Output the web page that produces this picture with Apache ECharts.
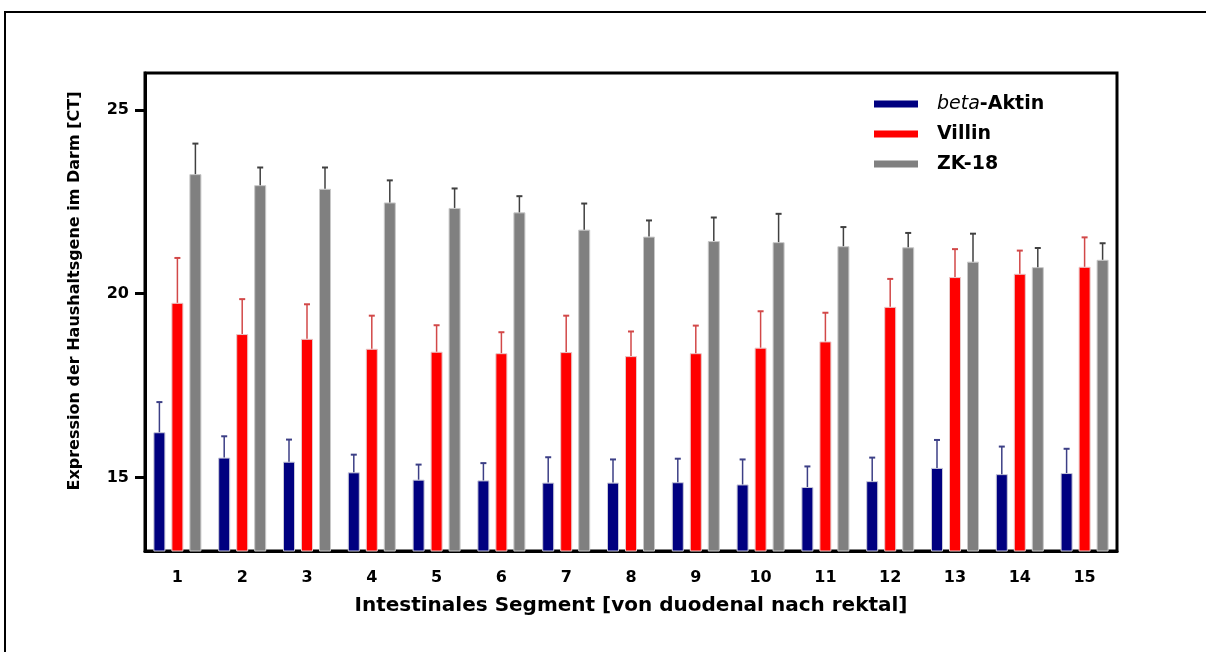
<!DOCTYPE html>
<html>
<head>
<meta charset="utf-8">
<script src="https://cdn.jsdelivr.net/npm/echarts@6/dist/echarts.min.js"></script>
<style>
  html, body { margin: 0; padding: 0; background: #fff; }
  #main { width: 1206px; height: 652px; }
</style>
</head>
<body>
<div id="main"></div>
<script>
var segments = ['1', '2', '3', '4', '5', '6', '7', '8', '9', '10', '11', '12', '13', '14', '15'];

// mean CT values
var betaAktin = [16.23, 15.54, 15.43, 15.14, 14.94, 14.92, 14.86, 14.86, 14.87, 14.81, 14.74, 14.90, 15.26, 15.09, 15.12];
var villin    = [19.75, 18.90, 18.77, 18.50, 18.42, 18.38, 18.41, 18.30, 18.38, 18.53, 18.70, 19.64, 20.45, 20.54, 20.73];
var zk18      = [23.25, 22.95, 22.85, 22.48, 22.33, 22.21, 21.74, 21.55, 21.43, 21.40, 21.29, 21.26, 20.87, 20.72, 20.92];

// standard deviations (upper whisker only)
var betaAktinSd = [0.82, 0.58, 0.60, 0.48, 0.41, 0.47, 0.69, 0.63, 0.64, 0.68, 0.56, 0.64, 0.76, 0.75, 0.66];
var villinSd    = [1.22, 0.95, 0.94, 0.90, 0.72, 0.57, 0.99, 0.67, 0.75, 0.99, 0.78, 0.76, 0.76, 0.63, 0.80];
var zk18Sd      = [0.83, 0.48, 0.58, 0.60, 0.53, 0.44, 0.71, 0.44, 0.64, 0.77, 0.52, 0.39, 0.76, 0.52, 0.45];

var yTicks = [15, 20, 25];

var font = '"DejaVu Sans", sans-serif';
var barW = 12;
var step = 18; // bar width + gap

function errData(mean, sd) {
	return mean.map(function (v, i) { return [i, v, sd[i]]; });
}

function errRender(offset, color) {
	return function (params, api) {
		var base = api.coord([api.value(0), api.value(1)]);
		var top = api.coord([api.value(0), api.value(1) + api.value(2)]);
		var cx = base[0] + offset;
		return {
			type: 'group',
			children: [{
				type: 'line',
				shape: { x1: cx, y1: base[1], x2: cx, y2: top[1] },
				style: { stroke: color, lineWidth: 1.5 }
			}, {
				type: 'line',
				shape: { x1: cx - 3, y1: top[1], x2: cx + 3, y2: top[1] },
				style: { stroke: color, lineWidth: 2 }
			}]
		};
	};
}

var chart = echarts.init(document.getElementById('main'));

var option = {
	backgroundColor: '#fff',
	animation: false,
	textStyle: { fontFamily: font },
	graphic: [{
		type: 'rect',
		shape: { x: 5, y: 12, width: 1400, height: 800 },
		style: { fill: 'none', stroke: '#000', lineWidth: 2 },
		z: -1
	}],
	grid: {
		left: 145,
		right: 89,
		top: 73,
		bottom: 101,
		show: true,
		borderColor: '#000',
		borderWidth: 3
	},
	legend: {
		data: ['beta-Aktin', 'Villin', 'ZK-18'],
		orient: 'vertical',
		left: 869,
		top: 89,
		itemWidth: 44,
		itemHeight: 7,
		itemGap: 10,
		icon: 'rect',
		itemStyle: { borderWidth: 0 },
		textStyle: {
			fontFamily: font,
			fontSize: 19,
			fontWeight: 'bold',
			color: '#000',
			lineHeight: 20,
			padding: [0, 0, 0, 14],
			rich: {
				it: { fontFamily: font, fontSize: 19, fontStyle: 'italic', fontWeight: 'normal', color: '#000', lineHeight: 20 },
				b: { fontFamily: font, fontSize: 19, fontWeight: 'bold', color: '#000', lineHeight: 20 }
			}
		},
		formatter: function (name) {
			if (name === 'beta-Aktin') return '{it|beta}{b|-Aktin}';
			return name;
		}
	},
	xAxis: {
		type: 'category',
		data: segments,
		name: 'Intestinales Segment [von duodenal nach rektal]',
		nameLocation: 'middle',
		nameGap: 45,
		nameTextStyle: { fontFamily: font, fontSize: 20, fontWeight: 'bold', color: '#000' },
		axisLine: { lineStyle: { color: '#000', width: 3 } },
		axisTick: { alignWithLabel: true, length: 9, lineStyle: { color: '#000', width: 4 } },
		axisLabel: { margin: 19, fontFamily: font, fontSize: 16, fontWeight: 'bold', color: '#000' },
		splitLine: { show: false }
	},
	yAxis: {
		type: 'value',
		min: 13,
		max: 26,
		name: 'Expression der Haushaltsgene im Darm [CT]',
		nameLocation: 'middle',
		nameGap: 62,
		nameTextStyle: { fontFamily: font, fontSize: 16, fontWeight: 'bold', color: '#000', padding: [0, 0, 0, 42] },
		axisLine: { show: true, lineStyle: { color: '#000', width: 3 } },
		axisTick: { show: true, length: 10, customValues: yTicks, lineStyle: { color: '#000', width: 3 } },
		axisLabel: { margin: 16, customValues: yTicks, fontFamily: font, fontSize: 16, fontWeight: 'bold', color: '#000' },
		splitLine: { show: false }
	},
	series: [{
		name: 'beta-Aktin',
		type: 'bar',
		data: betaAktin,
		barWidth: barW,
		barGap: '50%',
		itemStyle: { color: '#000080', borderColor: '#c8c8d8', borderWidth: 1 }
	}, {
		name: 'Villin',
		type: 'bar',
		data: villin,
		barWidth: barW,
		barGap: '50%',
		itemStyle: { color: '#ff0000', borderColor: '#e8c8c8', borderWidth: 1 }
	}, {
		name: 'ZK-18',
		type: 'bar',
		data: zk18,
		barWidth: barW,
		barGap: '50%',
		itemStyle: { color: '#808080', borderColor: '#c8c8c8', borderWidth: 1 }
	}, {
		name: 'beta-Aktin SD',
		type: 'custom',
		data: errData(betaAktin, betaAktinSd),
		encode: { x: 0, y: 1 },
		renderItem: errRender(-step, '#3c3f86'),
		z: 3
	}, {
		name: 'Villin SD',
		type: 'custom',
		data: errData(villin, villinSd),
		encode: { x: 0, y: 1 },
		renderItem: errRender(0, '#d24848'),
		z: 3
	}, {
		name: 'ZK-18 SD',
		type: 'custom',
		data: errData(zk18, zk18Sd),
		encode: { x: 0, y: 1 },
		renderItem: errRender(step, '#404040'),
		z: 3
	}]
};

chart.setOption(option);
</script>
</body>
</html>
